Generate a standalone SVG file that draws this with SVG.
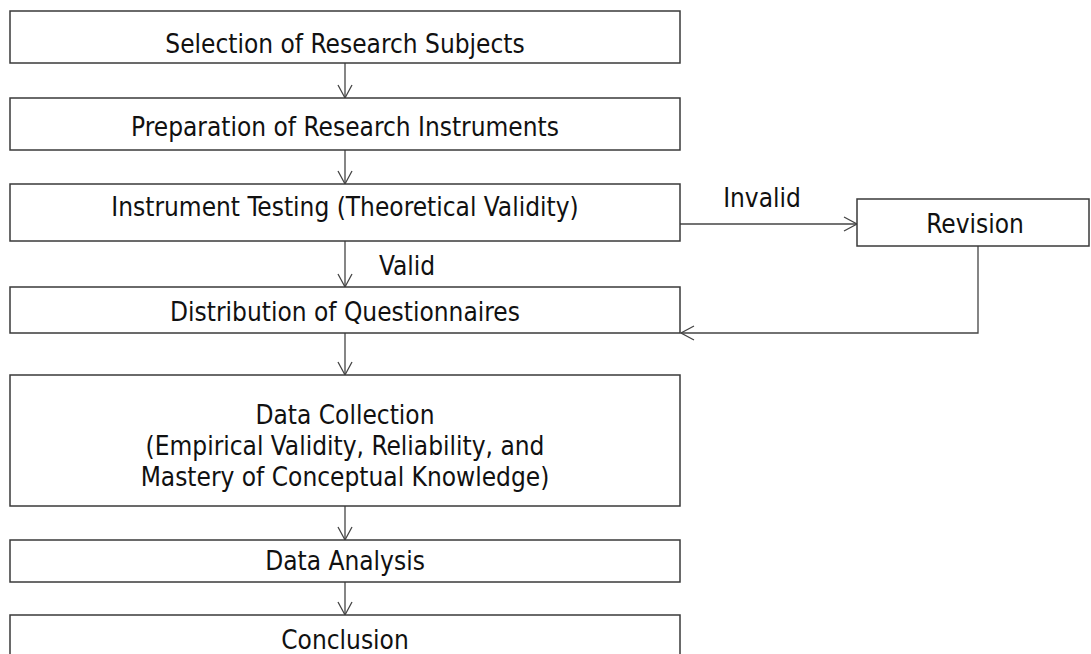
<svg xmlns="http://www.w3.org/2000/svg" width="1091" height="654" viewBox="0 0 1091 654">
<style>
.box{fill:#fff;stroke:#3a3a3a;stroke-width:1.5}
.t{font-family:"DejaVu Sans Condensed","Liberation Sans",sans-serif;font-size:26px;fill:#111;text-anchor:middle}
.c{fill:none;stroke:#444;stroke-width:1.3}
</style>
<defs>
<marker id="ah" markerWidth="16" markerHeight="18" refX="14" refY="9" orient="auto" markerUnits="userSpaceOnUse">
<path d="M1,2 L14,9 L1,16" fill="none" stroke="#444" stroke-width="1.3"/>
</marker>
</defs>
<rect width="1091" height="654" fill="#fff"/>
<g id="connectors">
<line class="c" x1="345" y1="63" x2="345" y2="98" marker-end="url(#ah)"/>
<line class="c" x1="345" y1="150" x2="345" y2="184" marker-end="url(#ah)"/>
<line class="c" x1="680" y1="224" x2="857" y2="224" marker-end="url(#ah)"/>
<line class="c" x1="345" y1="241" x2="345" y2="287" marker-end="url(#ah)"/>
<polyline class="c" points="978,246 978,333 681,333" marker-end="url(#ah)"/>
<line class="c" x1="345" y1="333" x2="345" y2="375" marker-end="url(#ah)"/>
<line class="c" x1="345" y1="506" x2="345" y2="540" marker-end="url(#ah)"/>
<line class="c" x1="345" y1="582" x2="345" y2="615" marker-end="url(#ah)"/>
<text class="t" x="762" y="207">Invalid</text>
<text class="t" x="407" y="275">Valid</text>
</g>
<g id="n1"><rect class="box" x="10" y="11" width="670" height="52"/><text class="t" x="345" y="53">Selection of Research Subjects</text></g>
<g id="n2"><rect class="box" x="10" y="98" width="670" height="52"/><text class="t" x="345" y="136">Preparation of Research Instruments</text></g>
<g id="n3"><rect class="box" x="10" y="184" width="670" height="57"/><text class="t" x="345" y="216">Instrument Testing (Theoretical Validity)</text></g>
<g id="n4"><rect class="box" x="10" y="287" width="670" height="46"/><text class="t" x="345" y="321">Distribution of Questionnaires</text></g>
<g id="n5"><rect class="box" x="10" y="375" width="670" height="131"/>
<text class="t" x="345" y="424">Data Collection</text>
<text class="t" x="345" y="455">(Empirical Validity, Reliability, and</text>
<text class="t" x="345" y="486">Mastery of Conceptual Knowledge)</text></g>
<g id="n6"><rect class="box" x="10" y="540" width="670" height="42"/><text class="t" x="345" y="570">Data Analysis</text></g>
<g id="n7"><rect class="box" x="10" y="615" width="670" height="50"/><text class="t" x="345" y="649">Conclusion</text></g>
<g id="n8"><rect class="box" x="857" y="199" width="232" height="47"/><text class="t" x="975" y="233">Revision</text></g>
</svg>
